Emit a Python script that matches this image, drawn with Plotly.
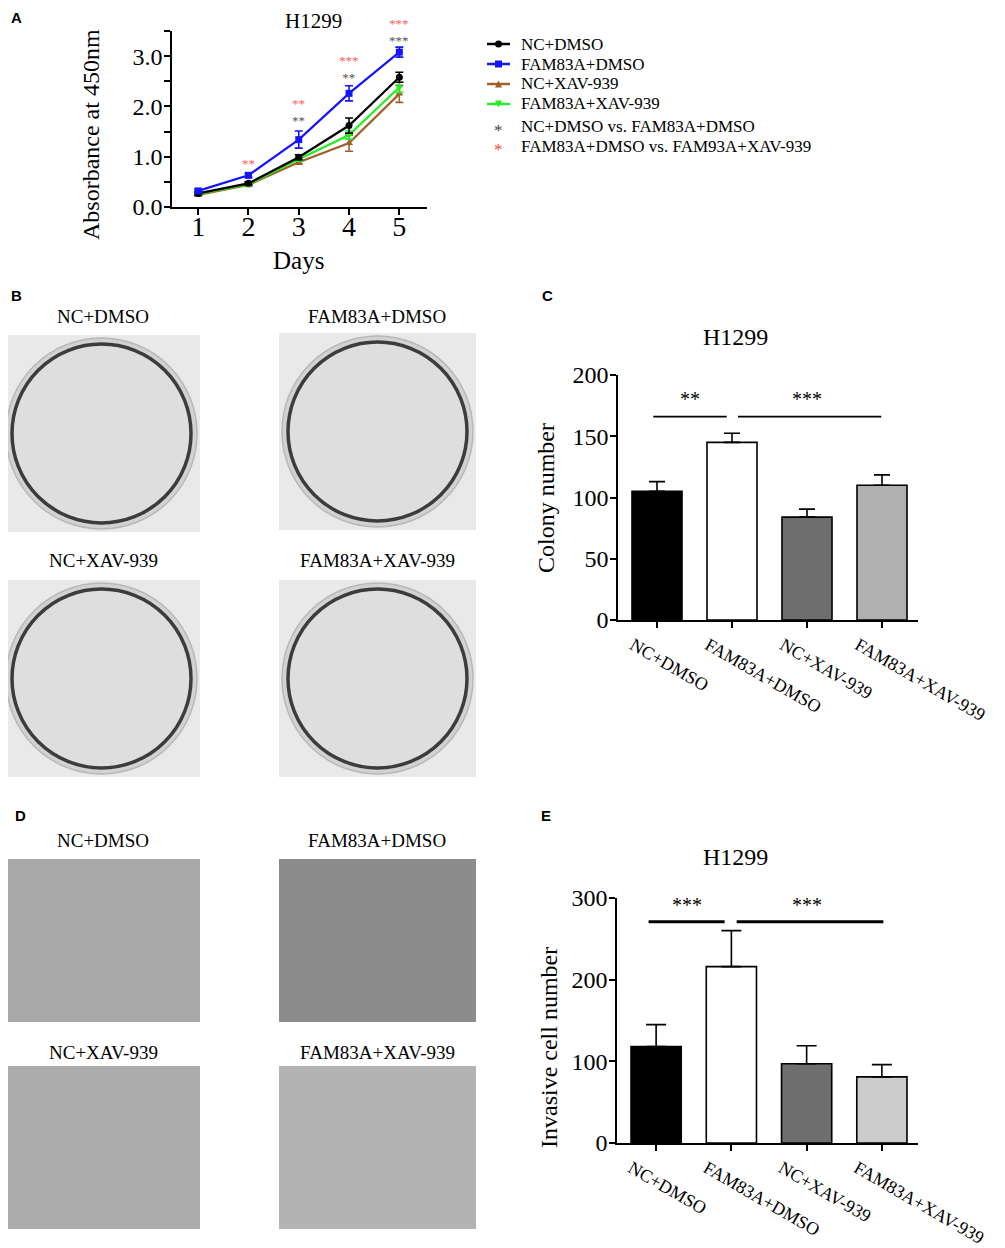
import plotly.graph_objects as go

# page body adds an 8px margin, so the figure is 8px smaller and offset
OFF = 8
W, H = 1005 - OFF, 1248 - OFF

# ---- panel A data (CCK-8 absorbance) ----
days = [1, 2, 3, 4, 5]
nc_dmso = [0.27, 0.47, 0.99, 1.62, 2.58]
nc_dmso_err = [0.03, 0.03, 0.05, 0.15, 0.10]
fam_dmso = [0.32, 0.63, 1.34, 2.26, 3.08]
fam_dmso_err = [0.03, 0.04, 0.17, 0.15, 0.10]
nc_xav = [0.24, 0.44, 0.89, 1.27, 2.25]
nc_xav_err = [0.02, 0.03, 0.04, 0.16, 0.17]
fam_xav = [0.26, 0.45, 0.95, 1.43, 2.38]
fam_xav_err = [0.02, 0.03, 0.04, 0.08, 0.10]

# significance stars above the curves: red = FAM83A+DMSO vs FAM83A+XAV, grey = NC vs FAM83A
star_days = [2, 3, 4, 5]
star_y = [0.87, 1.89, 2.74, 3.48]
star_red = ['**', '**', '***', '***']
star_grey = ['', '**', '**', '***']

# ---- panels C and E data ----
groups = ['NC+DMSO', 'FAM83A+DMSO', 'NC+XAV-939', 'FAM83A+XAV-939']
colony = [105, 145, 84, 110]
colony_err = [8, 7.5, 6.5, 8.5]
colony_colors = ['#000000', '#ffffff', '#6e6e6e', '#b0b0b0']
invasive = [118, 216, 97, 81]
invasive_err = [27, 44, 22, 15]
invasive_colors = ['#000000', '#ffffff', '#6e6e6e', '#cccccc']

serif = 'Liberation Serif'
sans = 'Liberation Sans'


def px(x):
    return (x - OFF) / W


def py(y):
    return 1 - (y - OFF) / H


fig = go.Figure()

# ---- panel A lines ----
series = [
    ('NC+DMSO', nc_dmso, nc_dmso_err, '#000000', 'circle'),
    ('FAM83A+DMSO', fam_dmso, fam_dmso_err, '#1414ff', 'square'),
    ('NC+XAV-939', nc_xav, nc_xav_err, '#a0602a', 'triangle-up'),
    ('FAM83A+XAV-939', fam_xav, fam_xav_err, '#22ee22', 'triangle-down'),
]
draw_order = [2, 3, 0, 1]
for i in draw_order:
    name, vals, err, col, sym = series[i]
    fig.add_trace(go.Scatter(
        x=days, y=vals, name=name, mode='lines+markers', showlegend=False,
        line=dict(color=col, width=2.2),
        marker=dict(color=col, symbol=sym, size=7),
        error_y=dict(type='data', array=err, color=col, thickness=1.6, width=4),
        xaxis='x', yaxis='y'))

for d, yv, r, g in zip(star_days, star_y, star_red, star_grey):
    txt = '<span style="color:#ff5a5a">%s</span>' % r
    if g:
        txt += '<br><span style="color:#555555">%s</span>' % g
    fig.add_annotation(x=d, y=yv, xref='x', yref='y', text=txt, showarrow=False,
                       font=dict(family=serif, size=13), yanchor='middle')

# ---- legend for panel A (drawn by hand to match the tight row spacing) ----
legend_labels = ['NC+DMSO', 'FAM83A+DMSO', 'NC+XAV-939', 'FAM83A+XAV-939',
                 'NC+DMSO vs. FAM83A+DMSO', 'FAM83A+DMSO vs. FAM93A+XAV-939']
legend_rows = [44, 64, 84, 104, 127, 147]
key_x0, key_x1, key_xm, text_x = 487, 510, 498.5, 519
for k, (lab, ry) in enumerate(zip(legend_labels, legend_rows)):
    fig.add_annotation(x=px(text_x), y=py(ry), xref='paper', yref='paper', text=lab, showarrow=False,
                       xanchor='left', yanchor='middle', font=dict(family=serif, size=17, color='black'))
    if k < 4:
        _, _, _, col, sym = series[k]
        fig.add_shape(type='line', xref='paper', yref='paper', x0=px(key_x0), x1=px(key_x1),
                      y0=py(ry), y1=py(ry), line=dict(color=col, width=2.5))
        s = 3.5
        if sym == 'circle':
            fig.add_shape(type='circle', xref='paper', yref='paper', x0=px(key_xm - s), x1=px(key_xm + s),
                          y0=py(ry + s), y1=py(ry - s), fillcolor=col, line=dict(width=0))
        elif sym == 'square':
            fig.add_shape(type='rect', xref='paper', yref='paper', x0=px(key_xm - s), x1=px(key_xm + s),
                          y0=py(ry + s), y1=py(ry - s), fillcolor=col, line=dict(width=0))
        else:
            sgn = 1 if sym == 'triangle-up' else -1
            path = 'M %f,%f L %f,%f L %f,%f Z' % (px(key_xm), py(ry - sgn * s), px(key_xm - s), py(ry + sgn * s),
                                                 px(key_xm + s), py(ry + sgn * s))
            fig.add_shape(type='path', xref='paper', yref='paper', path=path, fillcolor=col, line=dict(width=0))
    else:
        scol = '#444444' if k == 4 else '#ff4040'
        fig.add_annotation(x=px(key_xm), y=py(ry + 3), xref='paper', yref='paper', text='*', showarrow=False,
                           xanchor='center', yanchor='middle', font=dict(family=serif, size=17, color=scol))

# ---- panel C bars ----
fig.add_trace(go.Bar(
    x=list(range(4)), y=colony, width=0.667, showlegend=False,
    marker=dict(color=colony_colors, line=dict(color='#000000', width=1.6)),
    error_y=dict(type='data', array=colony_err, arrayminus=[0] * 4, symmetric=False,
                 color='#000000', thickness=1.6, width=8),
    xaxis='x2', yaxis='y2'))

# ---- panel E bars ----
fig.add_trace(go.Bar(
    x=list(range(4)), y=invasive, width=0.667, showlegend=False,
    marker=dict(color=invasive_colors, line=dict(color='#000000', width=1.6)),
    error_y=dict(type='data', array=invasive_err, arrayminus=[0] * 4, symmetric=False,
                 color='#000000', thickness=1.6, width=10),
    xaxis='x3', yaxis='y3'))

# significance brackets for C and E
fig.add_shape(type='line', xref='x2', yref='y2', x0=-0.05, x1=0.93, y0=166, y1=166, line=dict(color='black', width=1.6))
fig.add_shape(type='line', xref='x2', yref='y2', x0=1.08, x1=2.99, y0=166, y1=166, line=dict(color='black', width=1.6))
fig.add_annotation(x=0.44, y=180, xref='x2', yref='y2', text='**', showarrow=False,
                   font=dict(family=serif, size=20, color='black'))
fig.add_annotation(x=2.0, y=180, xref='x2', yref='y2', text='***', showarrow=False,
                   font=dict(family=serif, size=20, color='black'))

fig.add_shape(type='line', xref='x3', yref='y3', x0=-0.1, x1=0.91, y0=271, y1=271, line=dict(color='black', width=3))
fig.add_shape(type='line', xref='x3', yref='y3', x0=1.07, x1=3.02, y0=271, y1=271, line=dict(color='black', width=3))
fig.add_annotation(x=0.41, y=291, xref='x3', yref='y3', text='***', showarrow=False,
                   font=dict(family=serif, size=20, color='black'))
fig.add_annotation(x=2.0, y=291, xref='x3', yref='y3', text='***', showarrow=False,
                   font=dict(family=serif, size=20, color='black'))

# ---- axes ----
axis_common = dict(showline=True, linecolor='black', linewidth=1.6, ticks='outside',
                   tickcolor='black', tickwidth=1.6, ticklen=6, showgrid=False, zeroline=False,
                   automargin=False, tickfont=dict(family=serif, size=24, color='black'),
                   ticklabelstandoff=-3)
cat_axis = {**axis_common, 'tickfont': dict(family=serif, size=18, color='black'), 'ticklabelstandoff': 0}

fig.update_layout(
    xaxis=dict(domain=[px(172), px(427)], range=[0.48, 5.55], anchor='y',
               tickvals=days, ticktext=[str(d) for d in days],
               **{**axis_common, 'tickfont': dict(family=serif, size=28, color='black'), 'ticklabelstandoff': -12}),
    yaxis=dict(domain=[py(207), py(31)], range=[0, 3.5], anchor='x',
               tickvals=[0, 0.5, 1, 1.5, 2, 2.5, 3, 3.5],
               ticktext=['0.0', '', '1.0', '', '2.0', '', '3.0', ''], **axis_common),
    xaxis2=dict(domain=[px(618), px(918)], range=[-0.52, 3.48], anchor='y2',
                tickvals=list(range(4)), ticktext=groups, tickangle=30, ticklabelshift=-24, **cat_axis),
    yaxis2=dict(domain=[py(620), py(375)], range=[0, 200], anchor='x2', dtick=50, **axis_common),
    xaxis3=dict(domain=[px(617), px(918)], range=[-0.52, 3.48], anchor='y3',
                tickvals=list(range(4)), ticktext=groups, tickangle=30, ticklabelshift=-25, **cat_axis),
    yaxis3=dict(domain=[py(1143), py(898)], range=[0, 300], anchor='x3', dtick=100, **axis_common),
)

# axis titles
for txt, tx, ty, ang in [('Absorbance at 450nm', 91, 135, -90), ('Days', 298, 260, 0),
                         ('Colony number', 546, 498, -90), ('Invasive cell number', 549, 1048, -90)]:
    fig.add_annotation(x=px(tx), y=py(ty), xref='paper', yref='paper', text=txt, showarrow=False,
                       textangle=ang, xanchor='center', yanchor='middle',
                       font=dict(family=serif, size=24 if ang else 25, color='black'))

# ---- photo placeholders: colony plates (B) and transwell fields (D) ----
img_w = 197
img_left = [3, 279]
plate_top = [[335, 333], [580, 580]]
field_top = [859, 1066]
field_h = 163
field_fill = [['#a8a8a8', '#8c8c8c'], ['#acacac', '#b3b3b3']]

for r in range(2):
    for c in range(2):
        x0 = img_left[c]
        y0 = plate_top[r][c]
        fig.add_shape(type='rect', xref='paper', yref='paper', x0=px(x0), x1=px(x0 + img_w),
                      y0=py(y0 + img_w), y1=py(y0), fillcolor='#e9e9e9', line=dict(width=0), layer='below')
        fig.add_shape(type='circle', xref='paper', yref='paper', x0=px(x0 + 3), x1=px(x0 + img_w - 3),
                      y0=py(y0 + img_w - 3), y1=py(y0 + 3), fillcolor='#d2d2d2',
                      line=dict(color='#b8b8b8', width=1.5), layer='below')
        fig.add_shape(type='circle', xref='paper', yref='paper', x0=px(x0 + 9), x1=px(x0 + img_w - 9),
                      y0=py(y0 + img_w - 9), y1=py(y0 + 9), fillcolor='#dedede',
                      line=dict(color='#3c3c3c', width=3.5), layer='below')
        fy = field_top[r]
        fig.add_shape(type='rect', xref='paper', yref='paper', x0=px(x0), x1=px(x0 + img_w),
                      y0=py(fy + field_h), y1=py(fy), fillcolor=field_fill[r][c], line=dict(width=0), layer='below')

photo_titles = [['NC+DMSO', 'FAM83A+DMSO'], ['NC+XAV-939', 'FAM83A+XAV-939']]
plate_title_y = [316, 560]
field_title_y = [840, 1052]
title_cx = [103, 377]
for r in range(2):
    for c in range(2):
        for ty in (plate_title_y[r], field_title_y[r]):
            fig.add_annotation(x=px(title_cx[c]), y=py(ty), xref='paper', yref='paper', text=photo_titles[r][c],
                               showarrow=False, xanchor='center', yanchor='middle',
                               font=dict(family=serif, size=19, color='black'))

# ---- titles and panel letters ----
fig.add_annotation(x=px(313), y=1, xref='paper', yref='paper', text='H1299', showarrow=False,
                   xanchor='center', yanchor='top', borderpad=0, font=dict(family=serif, size=21, color='black'))
for tx, ty in [(735, 337), (735, 857)]:
    fig.add_annotation(x=px(tx), y=py(ty), xref='paper', yref='paper', text='H1299', showarrow=False,
                       xanchor='center', yanchor='middle', font=dict(family=serif, size=24, color='black'))

fig.add_annotation(x=px(16), y=1, xref='paper', yref='paper', text='<b>A</b>', showarrow=False,
                   xanchor='center', yanchor='top', borderpad=0, font=dict(family=sans, size=15, color='black'))
for letter, lx, ly in [('B', 16, 295), ('C', 547, 295), ('D', 20, 815), ('E', 546, 815)]:
    fig.add_annotation(x=px(lx), y=py(ly), xref='paper', yref='paper', text='<b>%s</b>' % letter,
                       showarrow=False, xanchor='center', yanchor='middle',
                       font=dict(family=sans, size=15, color='black'))

fig.update_layout(
    width=W, height=H, margin=dict(l=0, r=0, t=0, b=0, autoexpand=False),
    paper_bgcolor='white', plot_bgcolor='white',
    barmode='overlay', showlegend=False,
)

fig.write_html("out.html")
